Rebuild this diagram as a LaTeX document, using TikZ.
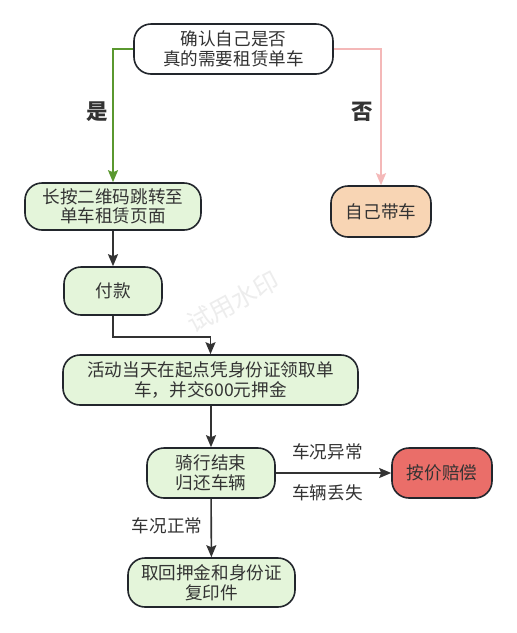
\documentclass[tikz,border=0pt]{standalone}
\usepackage{fontspec}
\setmainfont{Noto Sans CJK SC}
\usetikzlibrary{arrows.meta}
\definecolor{txt}{HTML}{333333}
\definecolor{bord}{HTML}{22262C}
\definecolor{gfill}{HTML}{E4F5DA}
\definecolor{pfill}{HTML}{F8D5B4}
\definecolor{rfill}{HTML}{EA6E69}
\definecolor{gline}{HTML}{5A982F}
\definecolor{pline}{HTML}{F4B8B8}
\definecolor{eline}{HTML}{333333}
\tikzset{
  box/.style={draw=bord, line width=1.6pt, rounded corners=17pt, inner sep=0pt,
    align=center, text=txt, font=\fontsize{17.6}{19.5}\selectfont},
  conn/.style={draw=eline, line width=1.6pt, -{Stealth[length=12pt,width=10pt,inset=2pt]}},
  lbl/.style={text=txt, font=\fontsize{17.6}{19}\selectfont, inner sep=0pt},
  yn/.style={text=txt, font=\fontsize{21.5}{21.5}\selectfont\bfseries, inner sep=0pt}
}
\begin{document}
\begin{tikzpicture}[x=1pt,y=-1pt]
\useasboundingbox (0,0) rectangle (517,633);
\fill[white] (0,0) rectangle (517,633);
% watermark
\node[rotate=28, text=black!7, font=\fontsize{25}{25}\selectfont, inner sep=0pt] (wm) at (233,302) {试用水印};
% nodes
\node[box, fill=white, minimum width=199pt, minimum height=50pt] (q) at (233.5,49) {确认自己是否\\真的需要租赁单车};
\node[box, fill=gfill, minimum width=176pt, minimum height=47pt] (scan) at (113,206.5) {长按二维码跳转至\\单车租赁页面};
\node[box, fill=pfill, minimum width=100pt, minimum height=51pt] (own) at (381,211.5) {自己带车};
\node[box, fill=gfill, minimum width=98pt, minimum height=48pt] (pay) at (113,291) {付款};
\node[box, fill=gfill, minimum width=295pt, minimum height=50pt] (take) at (210.5,380) {活动当天在起点凭身份证领取单\\车，并交600元押金};
\node[box, fill=gfill, minimum width=128pt, minimum height=50pt] (ride) at (211,473) {骑行结束\\归还车辆};
\node[box, fill=rfill, minimum width=100pt, minimum height=50pt] (comp) at (442,473) {按价赔偿};
\node[box, fill=gfill, minimum width=167pt, minimum height=49pt] (back) at (211.5,582.5) {取回押金和身份证\\复印件};
% connectors
\draw[conn, draw=gline, -{Stealth[length=12pt,width=10pt,inset=2pt,color=gline]}] (q.west) -| (scan.north);
\draw[conn, draw=pline, -{Stealth[length=12pt,width=10pt,inset=2pt,color=pline]}] (q.east) -| (own.north);
\draw[conn] (scan) -- (pay);
\coordinate (bend) at (113,337);
\draw[conn] (pay.south) -- (bend) -| (take.north);
\draw[conn] (take.south -| ride.north) -- (ride.north);
\draw[conn] (ride) -- (comp);
\draw[conn] (ride) -- (back);
% labels
\node[yn] (yes) at (97,112) {是};
\node[yn] (no) at (362,112) {否};
\node[lbl] (l1) at (327.5,452) {车况异常};
\node[lbl] (l2) at (327.5,493) {车辆丢失};
\node[lbl] (l3) at (167,526) {车况正常};
\end{tikzpicture}
\end{document}
